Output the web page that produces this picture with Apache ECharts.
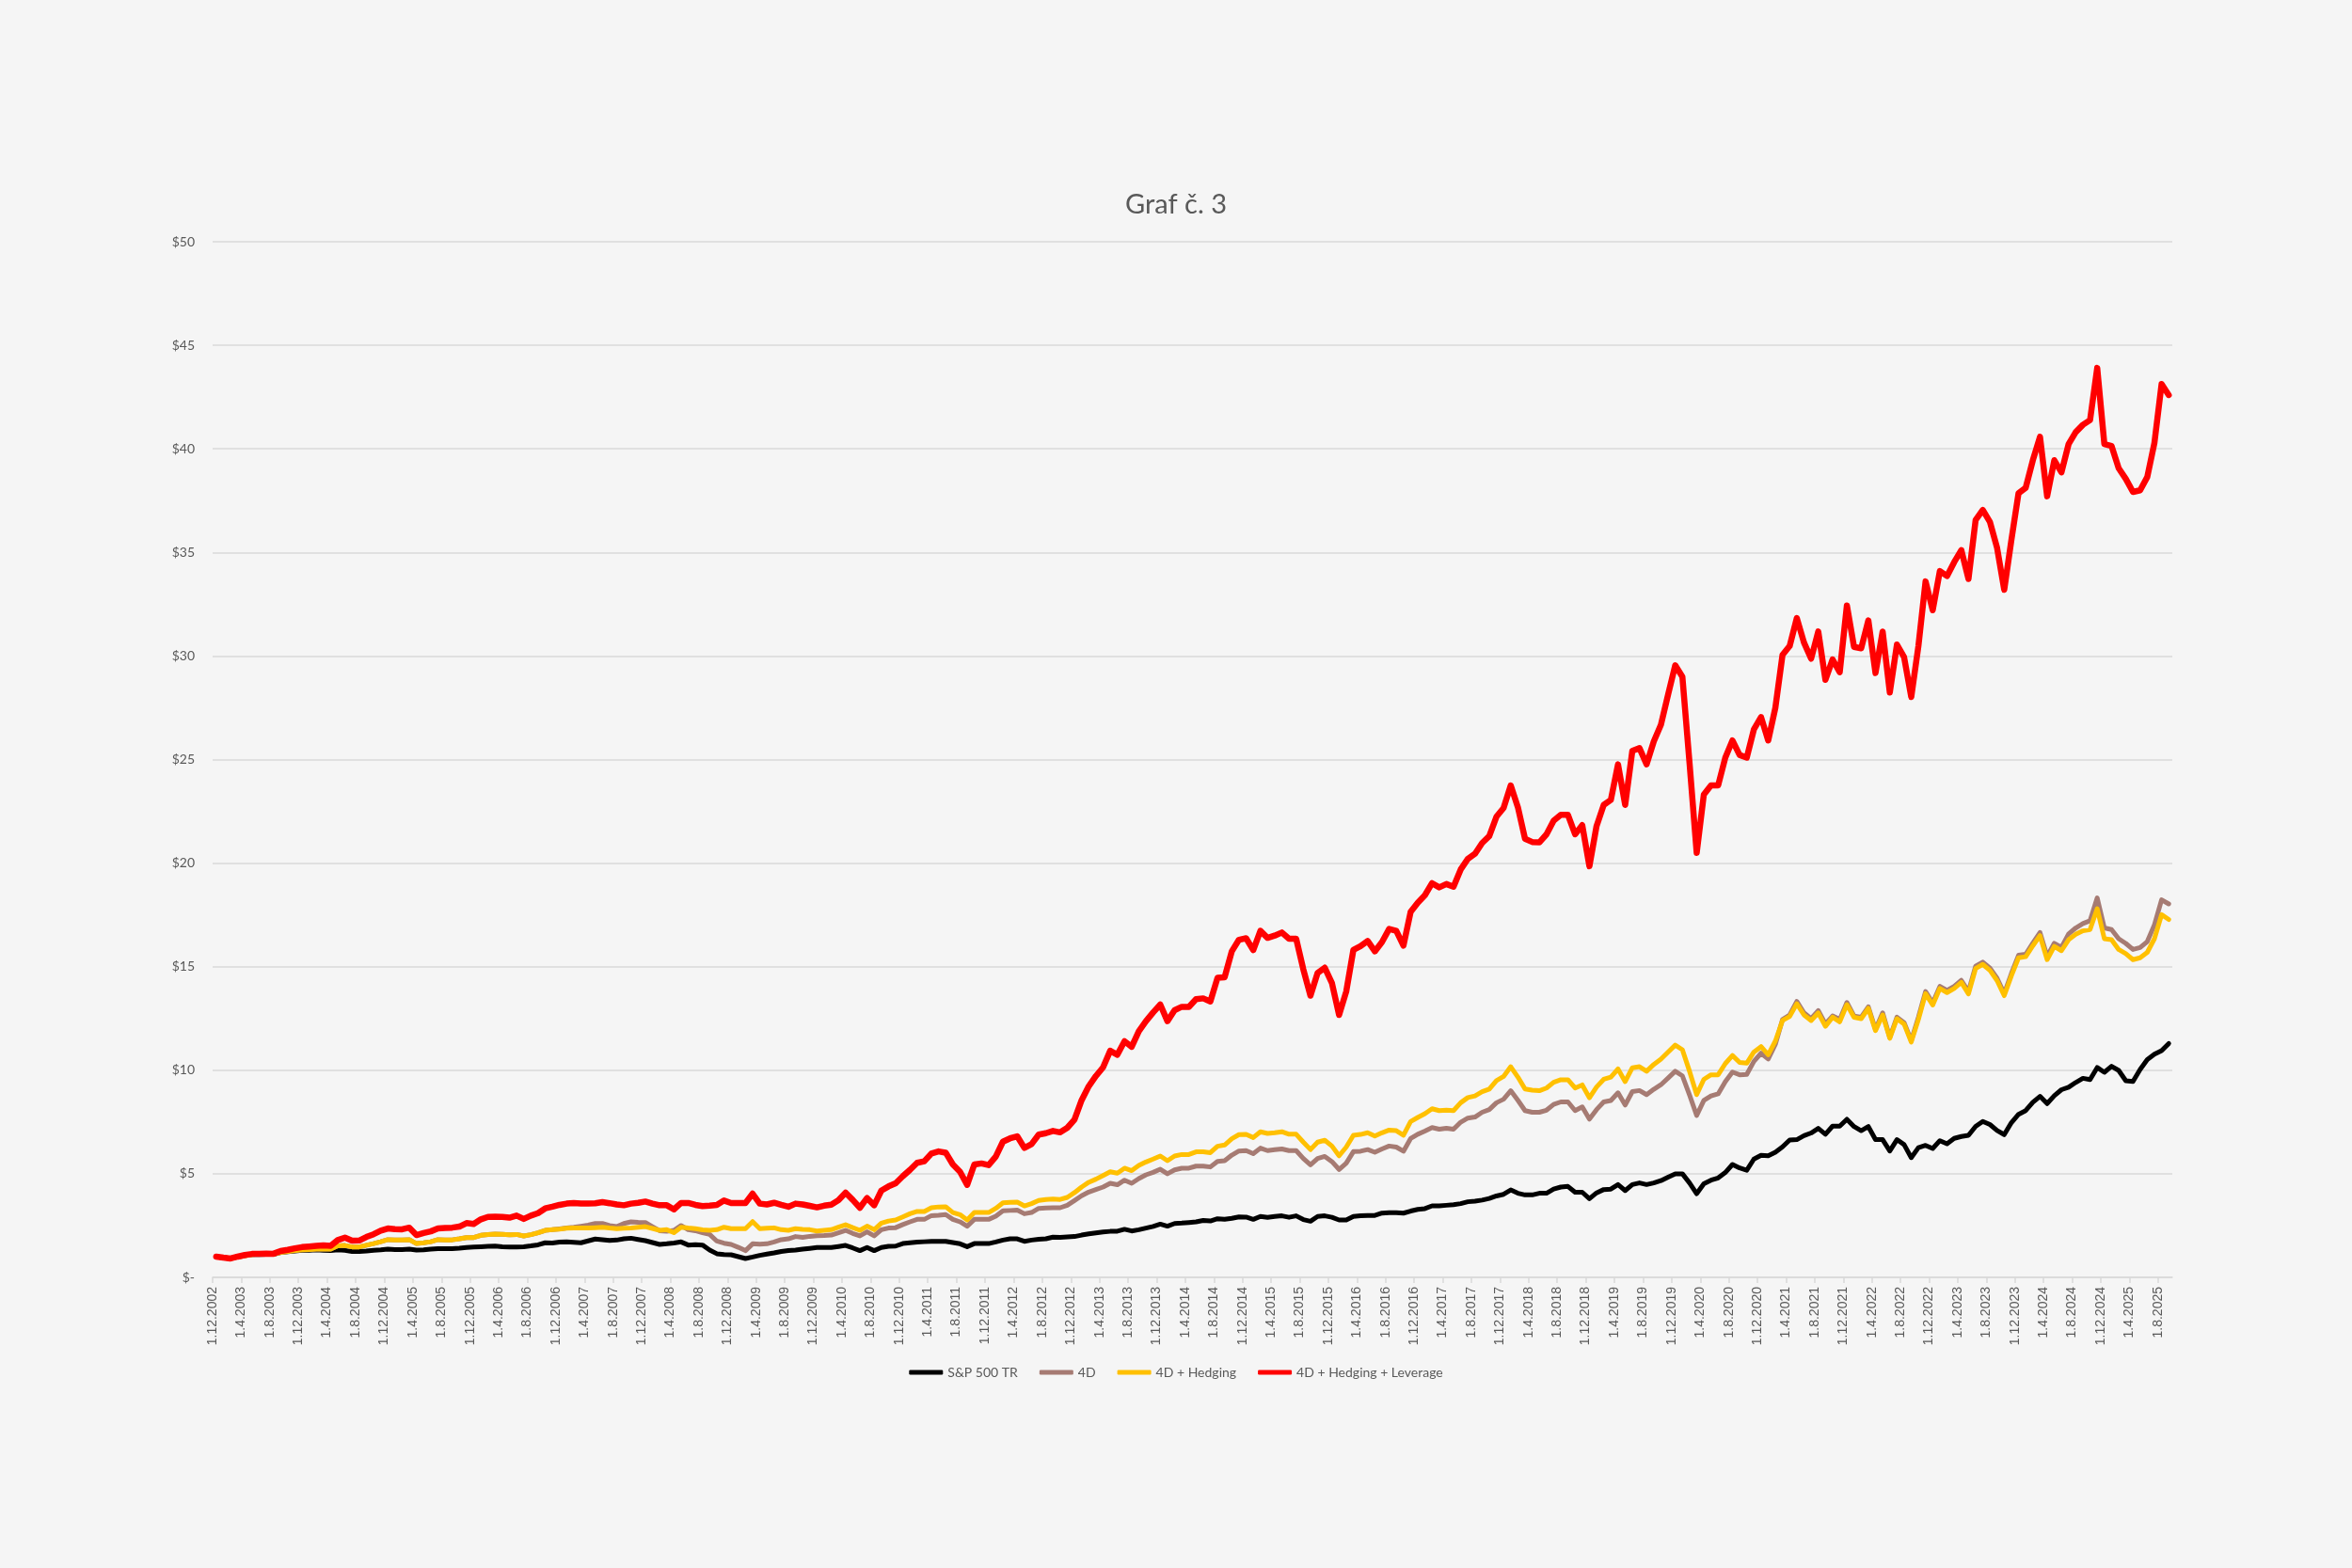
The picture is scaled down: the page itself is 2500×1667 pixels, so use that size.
<!DOCTYPE html>
<html>
<head>
<meta charset="utf-8">
<script src="https://cdn.jsdelivr.net/npm/echarts@6/dist/echarts.min.js"></script>
<style>
html,body{margin:0;padding:0;background:#f5f5f5;}
#chart{width:2500px;height:1667px;}
</style>
</head>
<body>
<div id="chart"></div>
<script>
// Monthly values, Dec 2002 .. Sep 2025 (274 months)
const sp500 = [
1.0,0.95,0.92,1.0,1.05,1.1,1.1,1.11,1.11,1.2,
1.24,1.27,1.3,1.31,1.33,1.3,1.29,1.33,1.3,1.25,
1.25,1.27,1.31,1.33,1.36,1.34,1.34,1.36,1.32,1.33,
1.36,1.39,1.39,1.39,1.41,1.44,1.46,1.48,1.5,1.51,
1.48,1.47,1.47,1.48,1.52,1.57,1.67,
1.66,1.7,1.71,1.69,1.67,1.76,1.85,1.82,1.78,1.8,
1.86,1.89,1.83,1.77,1.68,1.59,1.62,1.66,1.71,1.56,
1.58,1.56,1.32,1.14,1.1,1.09,1.0,0.91,0.98,1.06,
1.12,1.18,1.25,1.29,1.32,1.36,1.4,1.44,1.44,1.44,
1.49,1.54,1.42,1.29,1.44,1.29,1.44,1.5,
1.51,1.63,1.67,1.7,1.72,1.74,1.74,1.74,1.68,1.62,
1.48,1.63,1.63,1.63,1.71,1.8,1.86,1.86,1.74,1.8,
1.84,1.86,1.94,1.93,1.95,1.97,2.04,2.1,2.15,2.19,
2.22,2.23,2.32,2.24,2.3,2.38,2.46,2.57,2.47,2.6,
2.62,2.65,2.68,2.75,2.72,2.83,2.8,2.85,2.92,2.91,2.8,
2.94,2.9,2.94,2.97,2.9,2.97,2.79,2.71,2.94,2.97,
2.9,2.77,2.77,2.94,2.97,2.99,2.99,3.1,3.12,3.12,
3.1,3.2,3.28,3.32,3.45,3.45,3.48,3.51,3.56,3.65,
3.68,3.73,3.81,3.93,4.01,4.22,4.06,3.98,3.98,4.06,
4.06,4.26,4.36,4.39,4.11,4.11,3.8,
4.08,4.24,4.26,4.48,4.19,4.48,4.56,4.48,4.56,4.67,
4.84,5.0,5.0,4.56,4.04,4.52,4.69,4.8,5.06,5.45,
5.28,5.17,5.71,5.89,5.87,6.04,6.3,6.63,6.65,6.84,
6.97,7.19,6.91,7.3,7.3,7.63,7.28,7.08,7.28,6.65,
6.65,6.1,6.65,6.41,5.78,6.26,6.37,
6.22,6.6,6.45,6.71,6.8,6.86,7.29,7.53,7.38,7.09,
6.89,7.47,7.87,8.05,8.45,8.74,8.39,8.77,9.06,9.18,
9.41,9.61,9.55,10.13,9.9,10.19,9.99,9.49,9.46,10.04,
10.51,10.77,10.94,11.29
];
const fourD = [
1.0,0.94,0.91,0.98,1.04,1.1,1.12,1.12,1.12,1.2,
1.25,1.29,1.33,1.34,1.36,1.36,1.36,1.52,1.54,1.47,
1.47,1.55,1.63,1.72,1.82,1.8,1.8,1.82,1.63,1.67,
1.72,1.82,1.8,1.81,1.86,1.92,1.92,2.03,2.07,2.09,
2.08,2.05,2.07,2.0,2.06,2.15,2.27,
2.3,2.34,2.38,2.42,2.47,2.52,2.6,2.6,2.5,2.45,
2.6,2.68,2.66,2.65,2.45,2.25,2.22,2.27,2.5,2.3,
2.25,2.15,2.07,1.75,1.65,1.59,1.45,1.29,1.62,1.6,
1.62,1.71,1.82,1.86,1.97,1.93,1.98,2.01,2.02,2.04,
2.15,2.27,2.12,2.0,2.2,2.0,2.3,2.38,2.4,
2.55,2.68,2.8,2.8,2.98,3.0,3.03,2.8,2.68,2.47,
2.8,2.8,2.8,2.95,3.21,3.23,3.25,3.07,3.13,3.33,
3.35,3.36,3.36,3.48,3.71,3.94,4.12,4.24,4.36,4.54,
4.47,4.69,4.54,4.77,4.95,5.07,5.22,5.0,5.19,5.27,
5.27,5.37,5.37,5.33,5.6,5.63,5.9,6.1,6.12,5.97,
6.24,6.12,6.16,6.2,6.12,6.12,5.74,5.43,5.74,5.84,
5.59,5.21,5.51,6.07,6.09,6.17,6.04,6.2,6.34,6.29,
6.09,6.7,6.91,7.06,7.23,7.15,7.2,7.15,7.49,7.69,
7.74,7.97,8.1,8.43,8.6,9.01,8.55,8.05,7.97,7.97,
8.07,8.35,8.47,8.47,8.05,8.23,7.64,
8.1,8.47,8.54,8.91,8.32,8.97,9.02,8.82,9.08,9.3,
9.62,9.95,9.73,8.8,7.82,8.54,8.76,8.86,9.45,9.91,
9.78,9.8,10.43,10.82,10.54,11.25,12.45,12.67,13.32,12.77,
12.49,12.88,12.23,12.62,12.45,13.27,12.62,12.56,13.06,11.97,
12.77,11.58,12.56,12.3,11.43,12.56,13.8,
13.25,14.05,13.85,14.05,14.34,13.8,15.02,15.22,14.93,14.44,
13.7,14.67,15.55,15.6,16.14,16.65,15.5,16.13,15.93,16.58,
16.87,17.08,17.22,18.32,16.87,16.79,16.35,16.12,15.83,15.92,
16.21,17.02,18.23,18.03
];
const fourDHedging = [
1.0,0.94,0.91,0.98,1.04,1.1,1.12,1.12,1.12,1.2,
1.25,1.29,1.33,1.34,1.36,1.36,1.36,1.52,1.54,1.47,
1.47,1.55,1.63,1.72,1.82,1.8,1.8,1.82,1.63,1.67,
1.72,1.82,1.8,1.81,1.86,1.92,1.92,2.03,2.07,2.09,
2.08,2.05,2.07,2.0,2.06,2.15,2.27,2.3,2.33,
2.37,2.38,2.38,2.38,2.4,2.42,2.38,2.35,2.37,2.38,
2.42,2.45,2.36,2.27,2.3,2.16,2.42,2.38,2.35,2.29,
2.27,2.3,2.42,2.35,2.35,2.35,2.69,2.35,2.37,2.39,
2.3,2.27,2.35,2.32,2.3,2.24,2.27,2.3,2.42,2.54,
2.4,2.27,2.47,2.3,2.62,2.72,2.77,
2.92,3.07,3.18,3.18,3.36,3.4,3.41,3.13,3.03,2.77,
3.13,3.13,3.13,3.33,3.6,3.62,3.63,3.45,3.56,3.71,
3.76,3.78,3.76,3.86,4.09,4.36,4.59,4.74,4.92,5.1,
5.03,5.27,5.15,5.4,5.57,5.71,5.86,5.63,5.86,5.93,
5.93,6.06,6.06,6.02,6.33,6.39,6.69,6.89,6.9,6.75,
7.03,6.95,6.98,7.03,6.91,6.91,6.53,6.17,6.53,6.62,
6.34,5.87,6.29,6.86,6.9,6.98,6.82,6.98,7.11,7.08,
6.86,7.52,7.72,7.9,8.14,8.05,8.07,8.05,8.43,8.68,
8.76,8.96,9.09,9.5,9.7,10.17,9.67,9.09,9.04,9.01,
9.14,9.42,9.54,9.54,9.14,9.29,8.67,
9.19,9.56,9.67,10.06,9.45,10.12,10.17,9.95,10.28,10.54,
10.88,11.21,10.99,9.95,8.82,9.56,9.78,9.78,10.32,10.71,
10.38,10.34,10.88,11.14,10.75,11.41,12.4,12.6,13.21,12.67,
12.4,12.77,12.12,12.56,12.34,13.17,12.56,12.49,12.99,11.91,
12.67,11.54,12.49,12.23,11.36,12.45,13.7,
13.15,13.95,13.75,13.95,14.24,13.69,14.91,15.11,14.82,14.33,
13.6,14.56,15.43,15.48,16.01,16.5,15.34,15.98,15.77,16.3,
16.56,16.73,16.79,17.8,16.35,16.3,15.83,15.63,15.34,15.43,
15.69,16.35,17.51,17.28
];
const fourDHedgingLeverage = [
1.0,0.95,0.91,1.0,1.08,1.13,1.14,1.15,1.14,1.27,
1.33,1.4,1.46,1.49,1.52,1.54,1.52,1.8,1.92,1.77,
1.78,1.95,2.08,2.25,2.36,2.33,2.32,2.4,2.04,2.14,
2.22,2.36,2.38,2.4,2.45,2.62,2.58,2.8,2.92,2.93,
2.92,2.88,2.98,2.82,2.98,3.1,3.33,3.41,3.5,3.56,
3.59,3.57,3.56,3.58,3.63,3.58,3.52,3.48,3.56,3.6,
3.66,3.56,3.48,3.48,3.28,3.59,3.59,3.5,3.44,3.46,
3.5,3.71,3.59,3.59,3.59,4.04,3.56,3.52,3.6,3.5,
3.41,3.56,3.52,3.45,3.38,3.46,3.51,3.72,4.09,3.74,
3.36,3.83,3.48,4.19,4.39,4.54,
4.88,5.19,5.53,5.6,5.98,6.08,6.02,5.45,5.1,4.47,
5.45,5.5,5.42,5.83,6.55,6.71,6.81,6.25,6.43,6.89,
6.96,7.07,7.0,7.22,7.61,8.55,9.23,9.72,10.14,10.94,
10.75,11.4,11.13,11.88,12.37,12.79,13.17,12.37,12.9,13.06,
13.06,13.43,13.47,13.32,14.46,14.49,15.74,16.3,16.37,15.8,
16.73,16.39,16.5,16.65,16.35,16.35,14.87,13.6,14.7,14.95,
14.21,12.67,13.8,15.81,15.99,16.24,15.74,16.19,16.82,16.73,
16.02,17.64,18.09,18.45,19.03,18.83,18.99,18.86,19.69,20.2,
20.45,20.97,21.3,22.24,22.66,23.75,22.7,21.17,21.02,21.0,
21.39,22.05,22.33,22.33,21.39,21.83,19.85,
21.79,22.81,23.05,24.77,22.81,25.42,25.55,24.77,25.87,26.68,
28.13,29.55,29.0,24.83,20.49,23.31,23.75,23.75,25.09,25.92,
25.22,25.09,26.46,27.05,25.92,27.5,30.05,30.48,31.83,30.65,
29.87,31.18,28.85,29.83,29.22,32.44,30.44,30.37,31.72,29.18,
31.18,28.24,30.55,29.94,28.02,30.48,33.6,
32.21,34.1,33.86,34.53,35.11,33.72,36.56,37.05,36.47,35.22,
33.2,35.6,37.86,38.12,39.45,40.58,37.71,39.45,38.87,40.23,
40.81,41.16,41.39,43.91,40.23,40.14,39.07,38.55,37.92,38.0,
38.64,40.29,43.13,42.6
];

const seriesNames = ['S&P 500 TR', '4D', '4D + Hedging', '4D + Hedging + Leverage'];
const seriesColors = ['#000000', '#A67B73', '#FFC000', '#FF0000'];
const yTickValues = [0, 5, 10, 15, 20, 25, 30, 35, 40, 45, 50];

// month labels "1.M.YYYY" starting 1.12.2002
const categories = [];
for (let i = 0; i < 274; i++) {
  const mIdx = 11 + i;
  const y = 2002 + Math.floor(mIdx / 12);
  const m = (mIdx % 12) + 1;
  categories.push('1.' + m + '.' + y);
}

const all = [sp500, fourD, fourDHedging, fourDHedgingLeverage];
all.forEach((a, i) => { if (a.length !== 274) throw new Error('length ' + seriesNames[i] + ' ' + a.length); });

const chart = echarts.init(document.getElementById('chart'), null, {renderer: 'canvas'});
const widths = [5, 5, 5, 6.5];
chart.setOption({
  backgroundColor: '#f5f5f5',
  animation: false,
  title: {
    text: 'Graf č. 3',
    left: 'center',
    top: 198,
    textStyle: {fontFamily: 'Lato', fontSize: 29, fontWeight: 'normal', color: '#595959'}
  },
  legend: {
    data: seriesNames,
    left: 'center',
    top: 1447,
    icon: 'roundRect',
    itemWidth: 36,
    itemHeight: 5,
    itemGap: 23,
    textStyle: {fontFamily: 'Lato', fontSize: 14, color: '#595959'}
  },
  grid: {left: 226, right: 191, top: 257, bottom: 309, containLabel: false},
  xAxis: {
    type: 'value',
    min: 0,
    max: 274,
    interval: 4,
    splitLine: {show: false},
    axisLine: {show: true, lineStyle: {color: '#d9d9d9', width: 1.5}},
    axisTick: {show: true, length: 6, lineStyle: {color: '#d9d9d9', width: 1.5}},
    axisLabel: {
      rotate: 90,
      margin: 10,
      fontFamily: 'Liberation Sans',
      fontSize: 14,
      color: '#595959',
      showMaxLabel: false,
      formatter: function (v) {
        return (v % 4 === 0 && v < categories.length) ? categories[v] : '';
      }
    }
  },
  yAxis: {
    type: 'value',
    min: yTickValues[0],
    max: yTickValues[yTickValues.length - 1],
    interval: 5,
    axisLine: {show: false},
    axisTick: {show: false},
    splitLine: {show: true, lineStyle: {color: '#d9d9d9', width: 1.5}},
    axisLabel: {
      margin: 19,
      fontFamily: 'Lato',
      fontSize: 14,
      color: '#595959',
      formatter: function (v) { return v === 0 ? '$-' : '$' + v; }
    }
  },
  series: all.map((arr, i) => ({
    name: seriesNames[i],
    type: 'line',
    symbol: 'none',
    showSymbol: false,
    data: arr.map((v, k) => [k + 0.5, v]),
    itemStyle: {color: seriesColors[i]},
    lineStyle: {color: seriesColors[i], width: widths[i], cap: 'round', join: 'round'},
    z: 2 + i
  }))
});
</script>
</body>
</html>
